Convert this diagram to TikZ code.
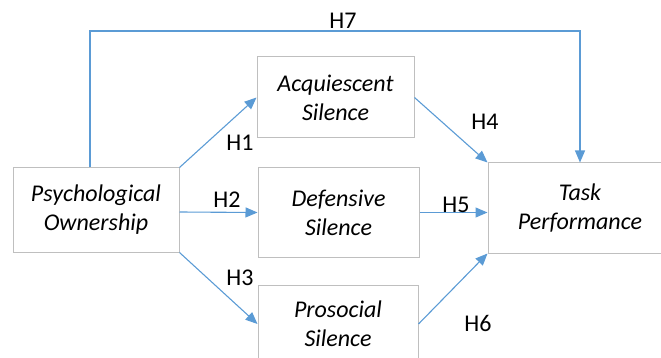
\documentclass[tikz,border=0pt]{standalone}
\usepackage{fontspec}
\setmainfont{Carlito}
\usetikzlibrary{arrows.meta}
\definecolor{boxgray}{RGB}{191,191,191}
\definecolor{arrowblue}{RGB}{91,155,213}
\begin{document}
\begin{tikzpicture}[x=1pt,y=-1pt,
  box/.style={draw=boxgray,line width=1pt,align=center,inner sep=0pt,
    font=\fontsize{24}{29}\selectfont\itshape},
  conn/.style={draw=arrowblue,line width=1.1pt,-{Triangle[length=12pt,width=10pt]}},
  hlabel/.style={font=\fontsize{24}{28}\selectfont,inner sep=0pt}]
\useasboundingbox (0,0) rectangle (661,358);
\clip (0,0) rectangle (661,358);
\node[box,minimum width=166pt,minimum height=84pt] (psych) at (96,210) {Psychological\\Ownership};
\node[box,minimum width=157pt,minimum height=81pt] (acq) at (335.5,97.5) {Acquiescent\\Silence};
\node[box,minimum width=161pt,minimum height=89pt] (def) at (338.5,212.5) {Defensive\\Silence};
\node[box,minimum width=160pt,minimum height=78pt] (pro) at (338,324) {Prosocial\\Silence};
\node[box,minimum width=184pt,minimum height=90pt] (task) at (580,208) {Task\\Performance};
\coordinate (h7a) at (90,31);
\coordinate (h7b) at (580,31);
\draw[conn] ([xshift=-6pt]psych.north) -- (h7a) -- (h7b) -- (task.north);
\draw[conn] (psych.north east) -- (acq.west);
\draw[conn] ([yshift=-2pt]psych.east) -- (def.west);
\draw[conn] (psych.south east) -- (pro.west);
\draw[conn] (acq.east) -- (task.north west);
\draw[conn] (def.east) -- (task.west |- def.east);
\draw[conn] (pro.east) -- (task.south west);
\node[hlabel] (l7) at (343,21) {H7};
\node[hlabel] (l1) at (240,143) {H1};
\node[hlabel] (l4) at (485,122) {H4};
\node[hlabel] (l2) at (227,200) {H2};
\node[hlabel] (l5) at (456,205) {H5};
\node[hlabel] (l3) at (240,278) {H3};
\node[hlabel] (l6) at (478,323) {H6};
\end{tikzpicture}
\end{document}
